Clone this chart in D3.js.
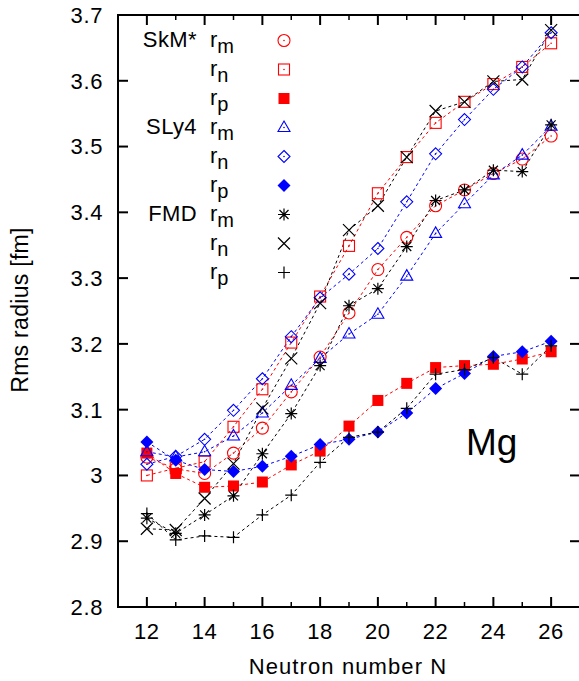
<!DOCTYPE html>
<html><head><meta charset="utf-8">
<script src="https://cdn.jsdelivr.net/npm/d3@7"></script>
<style>body{margin:0;background:#fff}svg{display:block}text{font-family:"Liberation Sans",Arial,sans-serif;fill:#000}</style>
</head><body><svg id="c" width="579" height="681"></svg>
<script>
const neutrons = [12,13,14,15,16,17,18,19,20,21,22,23,24,25,26];
const xTicks = [12,14,16,18,20,22,24,26];
const xMinorTicks = [13,15,17,19,21,23,25];
const yTicks = [2.8,2.9,3.0,3.1,3.2,3.3,3.4,3.5,3.6,3.7];

const skm_rm = [3.028,3.010,3.003,3.034,3.072,3.127,3.180,3.247,3.313,3.362,3.410,3.434,3.459,3.481,3.516];
const skm_rn = [3.000,3.011,3.021,3.074,3.131,3.202,3.272,3.349,3.429,3.484,3.536,3.568,3.595,3.621,3.657];
const skm_rp = [3.034,3.003,2.982,2.984,2.990,3.016,3.037,3.075,3.114,3.140,3.164,3.167,3.169,3.177,3.188];
const sly4_rm = [3.036,3.028,3.036,3.060,3.095,3.137,3.178,3.215,3.245,3.303,3.368,3.413,3.457,3.487,3.531];
const sly4_rn = [3.017,3.029,3.055,3.099,3.147,3.211,3.270,3.306,3.345,3.416,3.489,3.541,3.587,3.621,3.673];
const sly4_rp = [3.051,3.023,3.009,3.006,3.014,3.029,3.047,3.055,3.066,3.095,3.132,3.155,3.181,3.188,3.204];
const fmd_rm = [2.935,2.912,2.940,2.969,3.033,3.094,3.167,3.258,3.284,3.348,3.418,3.434,3.464,3.462,3.533];
const fmd_rn = [2.919,2.917,2.965,3.018,3.102,3.178,3.262,3.373,3.410,3.484,3.554,3.568,3.599,3.602,3.677];
const fmd_rp = [2.942,2.902,2.908,2.906,2.940,2.970,3.020,3.058,3.066,3.102,3.154,3.161,3.179,3.154,3.197];

const series = [
  {group:"SkM*", sub:"m", vals:skm_rm, color:"#ff0000", shape:"circle"},
  {group:"",     sub:"n", vals:skm_rn, color:"#ff0000", shape:"square"},
  {group:"",     sub:"p", vals:skm_rp, color:"#ff0000", shape:"fsquare"},
  {group:"SLy4", sub:"m", vals:sly4_rm, color:"#0000ff", shape:"triangle"},
  {group:"",     sub:"n", vals:sly4_rn, color:"#0000ff", shape:"diamond"},
  {group:"",     sub:"p", vals:sly4_rp, color:"#0000ff", shape:"fdiamond"},
  {group:"FMD",  sub:"m", vals:fmd_rm, color:"#000000", shape:"star"},
  {group:"",     sub:"n", vals:fmd_rn, color:"#000000", shape:"cross"},
  {group:"",     sub:"p", vals:fmd_rp, color:"#000000", shape:"plus"}
];

const svg = d3.select("#c");
const L = 118, R = 580, T = 15, B = 607;
const x = d3.scaleLinear().domain([11,27]).range([L,R]);
const y = d3.scaleLinear().domain([2.8,3.7]).range([B,T]);

function drawMarker(g, shape, color){
  const s = 6;
  const dot = () => g.append("circle").attr("r",0.8).attr("fill",color);
  switch(shape){
    case "circle": g.append("circle").attr("r",s).attr("fill","none").attr("stroke",color).attr("stroke-width",1.1); dot(); break;
    case "square": g.append("rect").attr("x",-5.5).attr("y",-5.5).attr("width",11).attr("height",11).attr("fill","none").attr("stroke",color).attr("stroke-width",1.1); dot(); break;
    case "fsquare": g.append("rect").attr("x",-5.5).attr("y",-5.5).attr("width",11).attr("height",11).attr("fill",color); break;
    case "triangle": g.append("path").attr("d","M0,-6.5L6,4L-6,4Z").attr("fill","none").attr("stroke",color).attr("stroke-width",1.1); dot(); break;
    case "diamond": g.append("path").attr("d","M0,-6L6,0L0,6L-6,0Z").attr("fill","none").attr("stroke",color).attr("stroke-width",1.1); dot(); break;
    case "fdiamond": g.append("path").attr("d","M0,-6.5L6.5,0L0,6.5L-6.5,0Z").attr("fill",color); break;
    case "star": g.append("path").attr("d","M-6,0H6M0,-6V6M-4.5,-4.5L4.5,4.5M-4.5,4.5L4.5,-4.5").attr("stroke",color).attr("stroke-width",1.2); break;
    case "cross": g.append("path").attr("d","M-6,-6L6,6M-6,6L6,-6").attr("stroke",color).attr("stroke-width",1.2); break;
    case "plus": g.append("path").attr("d","M-6,0H6M0,-6V6").attr("stroke",color).attr("stroke-width",1.2); break;
  }
}

// lines
const line = d3.line().x((d,i)=>x(neutrons[i])).y(d=>y(d));
series.forEach(s=>{
  svg.append("path").attr("d",line(s.vals)).attr("fill","none")
    .attr("stroke",s.color).attr("stroke-width",1).attr("stroke-dasharray","3,3");
});
// markers
series.forEach(s=>{
  s.vals.forEach((v,i)=>{
    const g = svg.append("g").attr("transform",`translate(${x(neutrons[i])},${y(v)})`);
    drawMarker(g, s.shape, s.color);
  });
});

// frame
const ax = svg.append("g").attr("stroke","#000").attr("stroke-width",2).attr("fill","none");
ax.append("rect").attr("x",L).attr("y",T).attr("width",R-L).attr("height",B-T);
xTicks.forEach(t=>{
  ax.append("line").attr("x1",x(t)).attr("x2",x(t)).attr("y1",B).attr("y2",B-10);
  ax.append("line").attr("x1",x(t)).attr("x2",x(t)).attr("y1",T).attr("y2",T+10);
});
xMinorTicks.forEach(t=>{
  ax.append("line").attr("x1",x(t)).attr("x2",x(t)).attr("y1",B).attr("y2",B-5).attr("stroke-width",1.5);
  ax.append("line").attr("x1",x(t)).attr("x2",x(t)).attr("y1",T).attr("y2",T+5).attr("stroke-width",1.5);
});
yTicks.forEach(t=>{
  ax.append("line").attr("x1",L).attr("x2",L+10).attr("y1",y(t)).attr("y2",y(t));
  ax.append("line").attr("x1",R).attr("x2",R-10).attr("y1",y(t)).attr("y2",y(t));
});

// tick labels
const fmt = d3.format(".1~f");
svg.append("g").selectAll("text").data(yTicks).join("text")
  .attr("x",L-15).attr("y",d=>y(d)).attr("dy","0.36em").attr("text-anchor","end")
  .attr("font-size",22).attr("letter-spacing",0.6).text(d=>fmt(d));
svg.append("g").selectAll("text").data(xTicks).join("text")
  .attr("x",d=>x(d)).attr("y",639).attr("text-anchor","middle")
  .attr("font-size",22).attr("letter-spacing",0.6).text(d=>d);

svg.append("text").attr("x",348).attr("y",674).attr("text-anchor","middle").attr("font-size",22).attr("letter-spacing",1.1).text("Neutron number N");
svg.append("text").attr("transform","translate(28,310) rotate(-90)").attr("text-anchor","middle").attr("font-size",23).attr("letter-spacing",0.3).text("Rms radius [fm]");
svg.append("text").attr("x",466).attr("y",455).attr("font-size",37).text("Mg");

// legend
series.forEach((s,i)=>{
  const by = 47 + i*29;
  if (s.group) svg.append("text").attr("x",197).attr("y",by).attr("text-anchor","end").attr("font-size",22).attr("letter-spacing",0.4).text(s.group);
  const t = svg.append("text").attr("x",210).attr("y",by).attr("font-size",22);
  t.append("tspan").text("r");
  t.append("tspan").attr("dy",6).attr("font-size",20).text(s.sub);
  const g = svg.append("g").attr("transform",`translate(284,${by-6.5})`);
  drawMarker(g, s.shape, s.color);
});
</script></body></html>
